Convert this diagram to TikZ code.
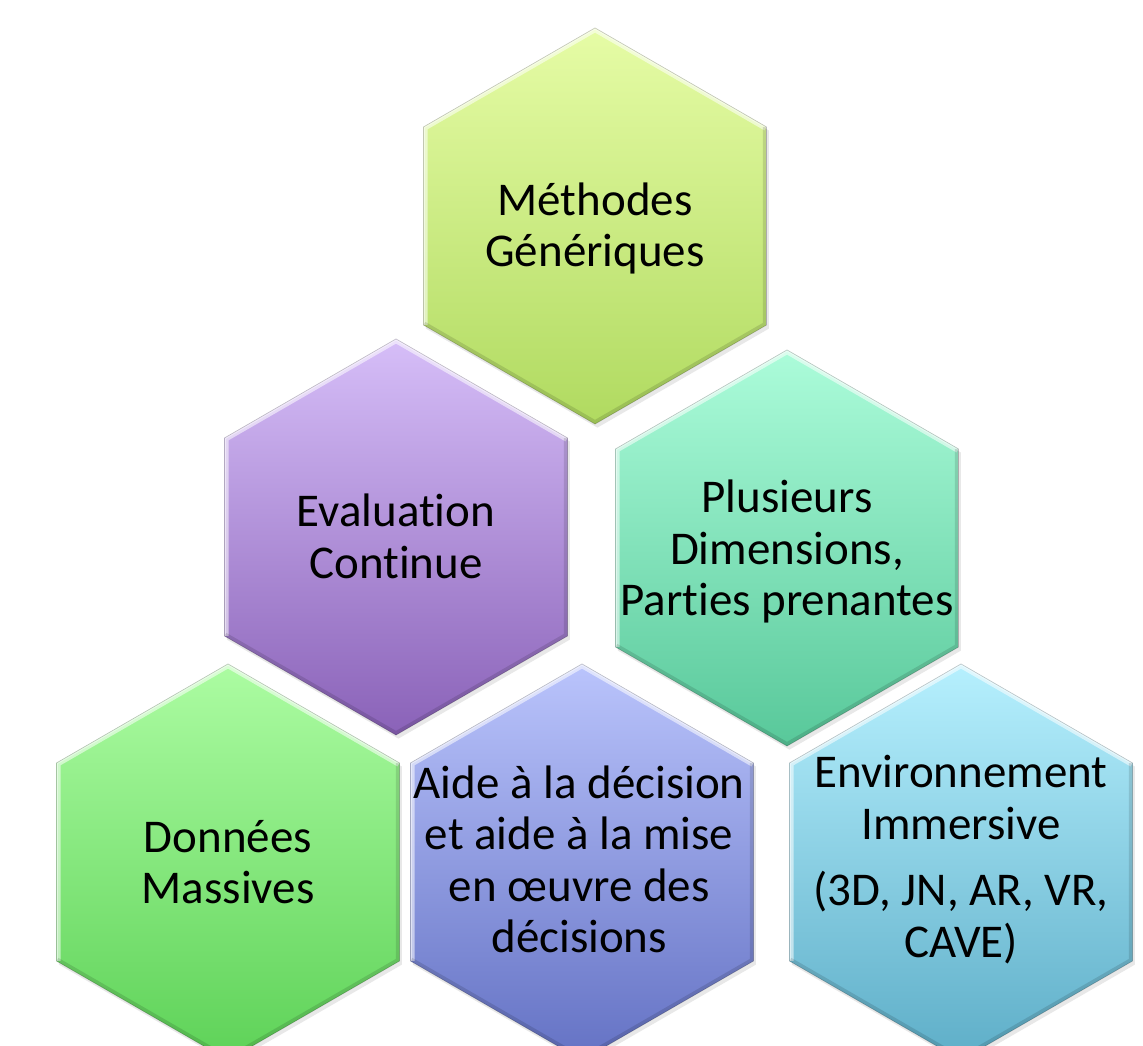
\documentclass[tikz,border=0pt]{standalone}
\usepackage{fontspec}
\setmainfont{Carlito}[Ligatures=NoCommon]
\usetikzlibrary{shapes.geometric,shadows}

\definecolor{methtop}{RGB}{230,252,166}
\definecolor{methbot}{RGB}{176,218,96}
\definecolor{evaltop}{RGB}{214,190,248}
\definecolor{evalbot}{RGB}{138,98,184}
\definecolor{plustop}{RGB}{172,252,218}
\definecolor{plusbot}{RGB}{88,200,154}
\definecolor{donntop}{RGB}{172,252,162}
\definecolor{donnbot}{RGB}{94,210,88}
\definecolor{aidetop}{RGB}{186,196,252}
\definecolor{aidebot}{RGB}{100,114,196}
\definecolor{envitop}{RGB}{182,240,254}
\definecolor{envibot}{RGB}{94,174,200}

\begin{document}
\begin{tikzpicture}[x=0.025cm,y=0.025cm,
    hexa/.style={regular polygon,regular polygon sides=6,shape border rotate=30,
        minimum size=9.9cm,inner sep=0pt,outer sep=0pt,
        draw=black,draw opacity=.2,line width=.5pt,
        drop shadow={shadow xshift=.06cm,shadow yshift=-.09cm,opacity=.18},
        path picture={
            % light bevel on the upper edges, darker one underneath
            \draw [white,opacity=.55,line width=.2cm,line join=round]
                (path picture bounding box.center) ++(210:198) -- ++(90:198)
                -- ++(30:198) -- ++(-30:198);
            \draw [white,opacity=.45,line width=.07cm,line join=round]
                (path picture bounding box.center) ++(210:198) -- ++(90:198)
                -- ++(30:198) -- ++(-30:198);
            \draw [black,opacity=.12,line width=.18cm,line join=round]
                (path picture bounding box.center) ++(30:198) -- ++(-90:198)
                -- ++(210:198) -- ++(150:198);
        }},
    hextext/.style={align=center,inner sep=0pt,
        font=\fontsize{33.4}{36.6}\selectfont}]

    \useasboundingbox (0,0) rectangle (1143,1045);
    \clip (0,0) rectangle (1143,1045);

    % centres % methodes (595,819)  evaluation (396,508)  plusieurs (787,497)
    %         % donnees (228,183)   aide (582,183)        environnement (961,183)
    \foreach \name/\x/\y/\ctop/\cbot in {
            methodes/595/819/methtop/methbot,
            evaluation/396/508/evaltop/evalbot,
            plusieurs/787/497/plustop/plusbot,
            donnees/228/183/donntop/donnbot,
            aide/582/183/aidetop/aidebot,
            environnement/961/183/envitop/envibot}
        {\node [hexa,top color=\ctop,bottom color=\cbot] (\name) at (\x,\y) {};}

    \node [hextext,yshift=-.06cm] (methodes-txt) at (methodes) {Méthodes\\Génériques};
    \node [hextext,yshift=.02cm] (evaluation-txt) at (evaluation) {Evaluation\\Continue};
    \node [hextext,yshift=-.09cm] (plusieurs-txt) at (plusieurs)
        {Plusieurs\\Dimensions,\\Parties prenantes};
    \node [hextext,yshift=0cm] (donnees-txt) at (donnees) {Données\\Massives};
    \node [hextext,xshift=-.07cm,yshift=.06cm] (aide-txt) at (aide)
        {Aide à la décision\\et aide à la mise\\en œuvre des\\décisions};
    \node [hextext,yshift=.06cm] (environnement-txt) at (environnement)
        {Environnement\\Immersive\\[.33em](3D, JN, AR, VR,\\CAVE)};
\end{tikzpicture}
\end{document}
